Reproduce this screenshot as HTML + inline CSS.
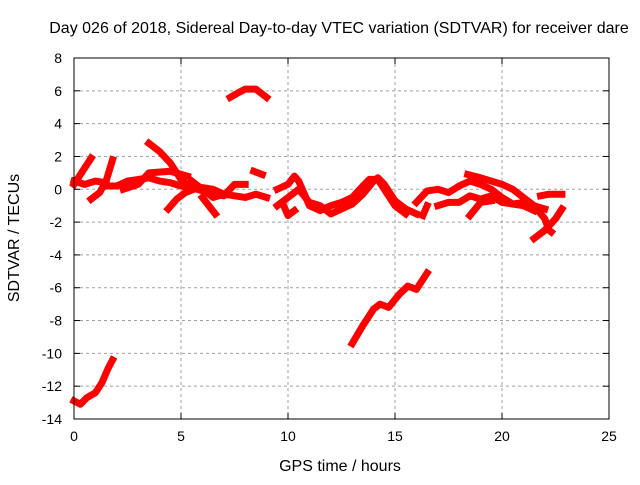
<!DOCTYPE html>
<html><head><meta charset="utf-8"><style>
body{margin:0;background:#fff;}
svg text{font-family:"Liberation Sans",sans-serif;font-size:14px;fill:#000;}
svg text.big{font-size:16px;}
</style></head><body>
<svg id="chart" width="640" height="480" xmlns="http://www.w3.org/2000/svg">
<rect width="640" height="480" fill="#fff"/>
<text class="big" x="339" y="33" text-anchor="middle">Day 026 of 2018, Sidereal Day-to-day VTEC variation (SDTVAR) for receiver dare</text>
<text class="big" x="340" y="471" text-anchor="middle">GPS time / hours</text>
<text class="big" transform="translate(19,238) rotate(-90)" text-anchor="middle">SDTVAR / TECUs</text>
<g id="grid"></g><g id="marks"></g><g id="axes"></g>
</svg>
<script>
const xTicks=[0,5,10,15,20,25];
const yTicks=[8,6,4,2,0,-2,-4,-6,-8,-10,-12,-14];
const traceA=[[0,-12.9],[0.3,-13.1],[0.6,-12.7],[1,-12.4],[1.3,-11.8],[1.6,-10.9],[1.8,-10.4]];
const traceB=[[13,-9.4],[13.5,-8.3],[14,-7.3],[14.3,-7],[14.7,-7.2],[15.2,-6.4],[15.6,-5.9],[16,-6.1],[16.5,-5.1]];
const traceC=[[7.3,5.6],[7.7,5.9],[8,6.1],[8.5,6.1],[9,5.6]];
const traceD=[[8.4,1.1],[8.8,0.9]];
const trace1=[[0,0.3],[0.3,0.9],[0.6,1.5],[0.8,1.9]];
const trace2=[[0,0.5],[0.5,0.3],[1,0.5],[1.5,0.4]];
const trace3=[[0.8,-0.6],[1.2,-0.2],[1.5,0.5],[1.8,1.8]];
const trace4=[[1.5,0.2],[2,0.2],[2.5,0.5],[3,0.6],[3.5,0.7],[4,0.5],[4.5,0.4],[5,0.2],[5.5,0.1],[6,0.1],[6.5,0],[7,-0.3],[7.5,-0.4],[8,-0.5],[8.5,-0.3],[9,-0.5]];
const trace5=[[3.5,2.8],[4,2.3],[4.5,1.6],[5,0.6],[5.5,0.1],[6,-0.1],[6.5,-0.3],[7,-0.4],[7.5,0.3],[8,0.3]];
const trace6=[[4.4,-1.2],[4.8,-0.6],[5.2,-0.2],[5.6,0]];
const trace7=[[6,-0.5],[6.3,-1],[6.6,-1.5]];
const trace8=[[5.5,0.5],[6,0],[6.5,-0.5],[7,-0.3]];
const trace9=[[2.3,0],[3,0.3],[3.5,1],[4.5,1.1],[5.3,0.8]];
const trace10=[[9.5,-1],[10,-0.5],[10.5,0],[11,-0.8],[11.5,-1],[12,-1.5],[12.5,-1.2],[13,-0.9],[13.5,-0.3],[14,0.5],[14.2,0.7],[14.5,0.3],[15,-0.7],[15.5,-1.2],[16,-1.5]];
const trace11=[[9.5,0],[10,0.3],[10.3,0.8],[10.5,0.5],[11,-1],[11.5,-1.3],[12,-1],[12.5,-0.8],[13,-0.5],[13.5,0.2],[13.8,0.6],[14.2,0.6],[14.6,-0.2],[15,-1],[15.5,-1.5]];
const trace12=[[9.8,-1],[10,-1.6],[10.3,-1.3]];
const trace13=[[16,-0.8],[16.5,-0.1],[17,0],[17.5,-0.2],[18,0.2],[18.5,0.5],[19,0.3],[19.5,0],[20,-0.5],[20.5,-0.9],[21,-0.8],[21.5,-1],[22,-1.2]];
const trace14=[[18.4,0.9],[19,0.7],[19.5,0.5],[20,0.3],[20.5,0],[21,-0.5],[21.5,-1],[22,-1.8],[22.2,-2.5],[22.3,-2.6]];
const trace15=[[17,-1],[17.5,-0.8],[18,-0.8],[18.5,-0.4],[19,-0.6],[19.5,-0.4],[20,-0.8],[21,-1],[21.5,-1.3]];
const trace16=[[18.5,-1.6],[19,-0.8],[19.5,-0.7]];
const trace17=[[21.5,-3],[22,-2.5],[22.5,-1.8],[22.8,-1.2]];
const trace18=[[21.8,-0.4],[22.2,-0.3],[22.5,-0.3],[22.8,-0.3]];
const trace19=[[16.3,-1.6],[16.5,-1]];
const traces=[traceA,traceB,traceC,traceD,trace1,trace2,trace3,trace4,trace5,trace6,trace7,trace8,trace9,trace10,trace11,trace12,trace13,trace14,trace15,trace16,trace17,trace18,trace19];

const L=74,R=609,T=58,B=419,xmin=0,xmax=25,ymin=-14,ymax=8;
const sx=v=>L+(v-xmin)/(xmax-xmin)*(R-L);
const sy=v=>B-(v-ymin)/(ymax-ymin)*(B-T);
const NS="http://www.w3.org/2000/svg";
const mk=(t,a,p)=>{const e=document.createElementNS(NS,t);for(const k in a)e.setAttribute(k,a[k]);p.appendChild(e);return e;};
const grid=document.getElementById('grid'),axes=document.getElementById('axes'),marks=document.getElementById('marks');
xTicks.forEach(v=>{
 if(v>xmin&&v<xmax){const g=mk('line',{x1:sx(v),x2:sx(v),y1:T,y2:B,stroke:'#a0a0a0','stroke-dasharray':'3,3'},grid);
 
 }
 const t=mk('text',{x:sx(v),y:B+22,'text-anchor':'middle'},axes);t.textContent=v;
 
 
 mk('line',{x1:sx(v),x2:sx(v),y1:B,y2:B-6,stroke:'#000'},axes);
 mk('line',{x1:sx(v),x2:sx(v),y1:T,y2:T+6,stroke:'#000'},axes);
});
yTicks.forEach(v=>{
 if(v>ymin&&v<ymax){const g=mk('line',{x1:L,x2:R,y1:sy(v),y2:sy(v),stroke:'#a0a0a0','stroke-dasharray':'3,3'},grid);
 
 }
 const t=mk('text',{x:L-12,y:sy(v)+5,'text-anchor':'end'},axes);t.textContent=v;
 
 
 mk('line',{x1:L,x2:L+6,y1:sy(v),y2:sy(v),stroke:'#000'},axes);
 mk('line',{x1:R,x2:R-6,y1:sy(v),y2:sy(v),stroke:'#000'},axes);
});
const fr=mk('rect',{x:L,y:T,width:R-L,height:B-T,fill:'none',stroke:'#000'},axes);


traces.forEach(tr=>{
 const p=mk('polyline',{points:tr.map(d=>sx(d[0])+','+sy(d[1])).join(' '),fill:'none',stroke:'#f00','stroke-width':7,'stroke-linejoin':'round','stroke-linecap':'square'},marks);
 
 
});
</script>
</body></html>
